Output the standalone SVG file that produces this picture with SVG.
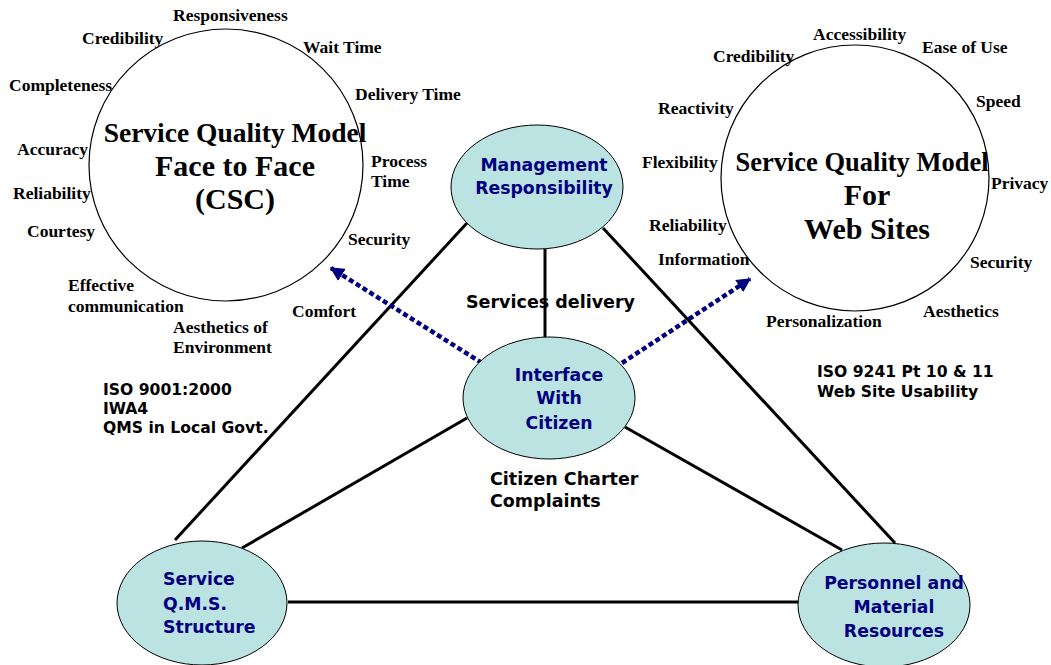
<svg xmlns="http://www.w3.org/2000/svg" width="1051" height="665" viewBox="0 0 1051 665">
<defs>
<style>
.model{fill:#fff;stroke:#000;stroke-width:1.2}
.node{fill:#bae3e1;stroke:#000;stroke-width:1}
.lbl{font-family:"Liberation Serif","Times New Roman",serif;font-weight:bold;font-size:17.5px;fill:#000}
.ttl{font-family:"Liberation Serif","Times New Roman",serif;font-weight:bold;font-size:30px;fill:#000;text-anchor:middle}
.nt{font-family:"DejaVu Sans",Verdana,sans-serif;font-weight:bold;font-size:17.3px;fill:#000080}
.st{font-family:"DejaVu Sans",Verdana,sans-serif;font-weight:bold;font-size:17.5px;fill:#000}
.iso{font-family:"DejaVu Sans",Verdana,sans-serif;font-weight:bold;font-size:15.6px;fill:#000}
.edge{stroke:#000;stroke-width:3;fill:none}
.dot{stroke:#000080;stroke-width:4.5;stroke-dasharray:5 3;fill:none}
</style>
<marker id="arr" viewBox="0 0 10 10" refX="9" refY="5" markerWidth="3.2" markerHeight="3.2" orient="auto" markerUnits="strokeWidth">
<path d="M0,0 L10,5 L0,10 z" fill="#000080"/>
</marker>
</defs>

<g id="model-csc">
<ellipse class="model" cx="226" cy="165" rx="137" ry="136"/>
<text class="ttl" x="235" y="142" style="font-size:27.5px">Service Quality Model</text>
<text class="ttl" x="235" y="176">Face to Face</text>
<text class="ttl" x="235" y="209">(CSC)</text>
<text class="lbl" x="173" y="21">Responsiveness</text>
<text class="lbl" x="82" y="44">Credibility</text>
<text class="lbl" x="303" y="53">Wait Time</text>
<text class="lbl" x="9" y="91">Completeness</text>
<text class="lbl" x="355" y="100">Delivery Time</text>
<text class="lbl" x="17" y="155">Accuracy</text>
<text class="lbl" x="371" y="167">Process</text>
<text class="lbl" x="371" y="187">Time</text>
<text class="lbl" x="13" y="199">Reliability</text>
<text class="lbl" x="27" y="237">Courtesy</text>
<text class="lbl" x="348" y="245">Security</text>
<text class="lbl" x="68" y="291">Effective</text>
<text class="lbl" x="68" y="312">communication</text>
<text class="lbl" x="292" y="317">Comfort</text>
<text class="lbl" x="173" y="333">Aesthetics of</text>
<text class="lbl" x="173" y="353">Environment</text>
</g>

<g id="model-web">
<ellipse class="model" cx="855" cy="178" rx="134" ry="133"/>
<text class="ttl" x="862" y="171" style="font-size:26.5px">Service Quality Model</text>
<text class="ttl" x="867" y="205">For</text>
<text class="ttl" x="867" y="239">Web Sites</text>
<text class="lbl" x="813" y="40">Accessibility</text>
<text class="lbl" x="922" y="53">Ease of Use</text>
<text class="lbl" x="713" y="62">Credibility</text>
<text class="lbl" x="976" y="107">Speed</text>
<text class="lbl" x="658" y="114">Reactivity</text>
<text class="lbl" x="642" y="168">Flexibility</text>
<text class="lbl" x="991" y="189">Privacy</text>
<text class="lbl" x="649" y="231">Reliability</text>
<text class="lbl" x="658" y="265">Information</text>
<text class="lbl" x="970" y="268">Security</text>
<text class="lbl" x="923" y="317">Aesthetics</text>
<text class="lbl" x="766" y="327">Personalization</text>
</g>

<g id="connectors">
<line class="edge" x1="545" y1="249" x2="545" y2="337"/>
<line class="edge" x1="467" y1="223" x2="175" y2="540"/>
<line class="edge" x1="603" y1="228" x2="895" y2="543"/>
<line class="edge" x1="467" y1="418" x2="242" y2="548"/>
<line class="edge" x1="625" y1="427" x2="842" y2="550"/>
<line class="edge" x1="288" y1="602" x2="799" y2="602"/>
<line class="dot" x1="482" y1="363" x2="331" y2="268" marker-end="url(#arr)"/>
<line class="dot" x1="622" y1="363" x2="750" y2="279" marker-end="url(#arr)"/>
</g>

<g id="management">
<ellipse class="node" cx="537" cy="187" rx="86" ry="62"/>
<text class="nt" x="544" y="171" text-anchor="middle">Management</text>
<text class="nt" x="544" y="194" text-anchor="middle">Responsibility</text>
</g>

<g id="interface">
<ellipse class="node" cx="549" cy="398" rx="86" ry="61"/>
<text class="nt" x="559" y="381" text-anchor="middle">Interface</text>
<text class="nt" x="559" y="404" text-anchor="middle">With</text>
<text class="nt" x="559" y="429" text-anchor="middle">Citizen</text>
</g>

<g id="service-qms">
<ellipse class="node" cx="202" cy="603" rx="85" ry="62"/>
<text class="nt" x="163" y="585">Service</text>
<text class="nt" x="163" y="610">Q.M.S.</text>
<text class="nt" x="163" y="633">Structure</text>
</g>

<g id="personnel">
<ellipse class="node" cx="884" cy="605" rx="86" ry="62"/>
<text class="nt" x="894" y="589" text-anchor="middle">Personnel and</text>
<text class="nt" x="894" y="613" text-anchor="middle">Material</text>
<text class="nt" x="894" y="637" text-anchor="middle">Resources</text>
</g>

<g id="annotations">
<text class="st" x="466" y="308">Services delivery</text>
<text class="iso" x="103" y="395">ISO 9001:2000</text>
<text class="iso" x="103" y="414">IWA4</text>
<text class="iso" x="103" y="433">QMS in Local Govt.</text>
<text class="iso" x="817" y="377">ISO 9241 Pt 10 &amp; 11</text>
<text class="iso" x="817" y="397">Web Site Usability</text>
<text class="st" x="490" y="485">Citizen Charter</text>
<text class="st" x="490" y="507">Complaints</text>
</g>
</svg>
